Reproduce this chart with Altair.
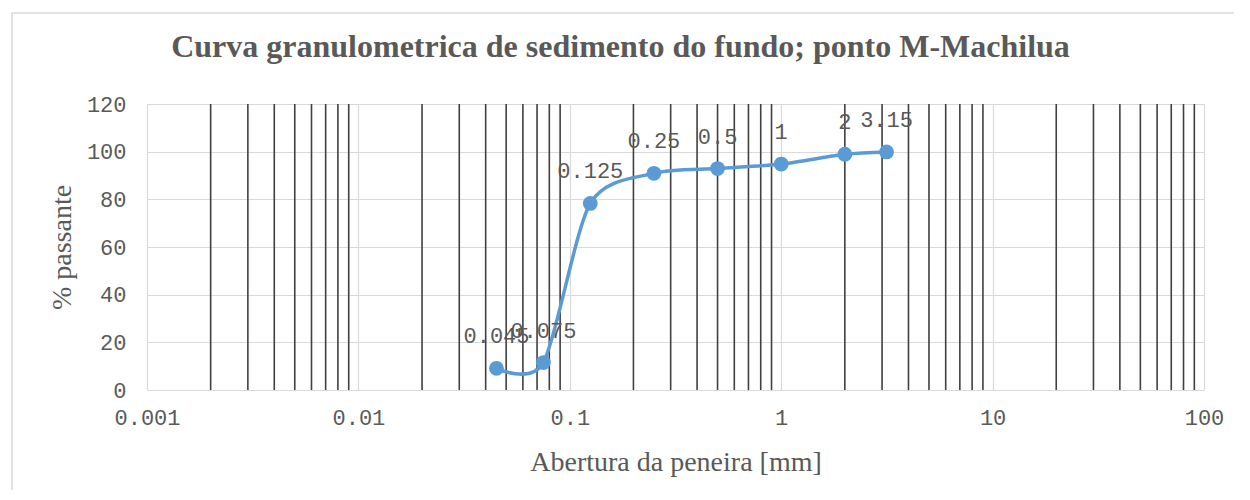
import altair as alt
import pandas as pd

# data
sieve_mm = [0.045, 0.075, 0.125, 0.25, 0.5, 1, 2, 3.15]
passing = [9.1, 11.5, 78.3, 90.9, 92.9, 94.8, 98.9, 99.9]
labels = ["0.045", "0.075", "0.125", "0.25", "0.5", "1", "2", "3.15"]
major_ticks = [0.001, 0.01, 0.1, 1, 10, 100]
minor_ticks = [m * d for d in [0.001, 0.01, 0.1, 1, 10] for m in range(2, 10)]
y_ticks = [0, 20, 40, 60, 80, 100, 120]

df = pd.DataFrame({"x": sieve_mm, "y": passing, "lab": labels})
minor_df = pd.DataFrame({"x": minor_ticks})

GRAY = "#595959"
BLUE = "#5B9BD5"
MONO = "Liberation Mono"
SERIF = "Liberation Serif"

xscale = alt.Scale(type="log", domain=[0.001, 100], nice=False)
yscale = alt.Scale(domain=[0, 120], nice=False)

xaxis = alt.Axis(values=major_ticks, format="~g", grid=True, gridColor="#d9d9d9", gridWidth=1.2,
                 domain=False, ticks=False, labelFlush=False, labelFont=MONO, labelFontSize=22,
                 labelColor=GRAY, labelPadding=17, title="Abertura da peneira [mm]", titleFont=SERIF,
                 titleFontSize=28, titleFontWeight="normal", titleColor=GRAY, titleY=72,
                 titleBaseline="middle")
yaxis = alt.Axis(values=y_ticks, grid=True, gridColor="#d9d9d9", gridWidth=1.2, domain=False, ticks=False,
                 labelFont=MONO, labelFontSize=22, labelColor=GRAY, labelPadding=21,
                 title="% passante", titleFont=SERIF, titleFontSize=28, titleFontWeight="normal",
                 titleColor=GRAY, titleX=-85, titleY=143, titleAngle=-90, titleAlign="center",
                 titleBaseline="middle")

base = alt.Chart(df)

frame = alt.Chart(pd.DataFrame({"a": [0]})).mark_rect(fill=None, stroke="#d9d9d9", strokeWidth=1.5).encode(
    x=alt.value(-135), x2=alt.value(1160), y=alt.value(-91), y2=alt.value(420)
)

minor = alt.Chart(minor_df).mark_rule(color="#404040", strokeWidth=1.6).encode(
    x=alt.X("x:Q", scale=xscale, axis=xaxis)
)

line = base.mark_line(interpolate="cardinal", tension=0.2, color=BLUE, strokeWidth=3.5).encode(
    x=alt.X("x:Q", scale=xscale, axis=xaxis),
    y=alt.Y("y:Q", scale=yscale, axis=yaxis),
)
pts = base.mark_circle(size=220, color=BLUE, opacity=1).encode(
    x=alt.X("x:Q", scale=xscale), y=alt.Y("y:Q", scale=yscale)
)
txt = base.mark_text(font=MONO, fontSize=22, color=GRAY, baseline="alphabetic", align="center", dy=-25).encode(
    x=alt.X("x:Q", scale=xscale), y=alt.Y("y:Q", scale=yscale), text="lab:N"
)

chart = alt.layer(frame, minor, line, pts, txt).properties(
    width=1057, height=286,
    title=alt.TitleParams("Curva granulometrica de sedimento do fundo; ponto M-Machilua",
                          font=SERIF, fontSize=32, fontWeight="bold", color=GRAY,
                          anchor="middle", dx=-55, offset=-52),
    autosize=alt.AutoSizeParams(type="none"),
    padding={"left": 139, "top": 96, "right": 30, "bottom": 100},
).configure_view(stroke=None).configure(background="white")

chart.save("out.html", embed_options={"renderer": "svg", "actions": False})
